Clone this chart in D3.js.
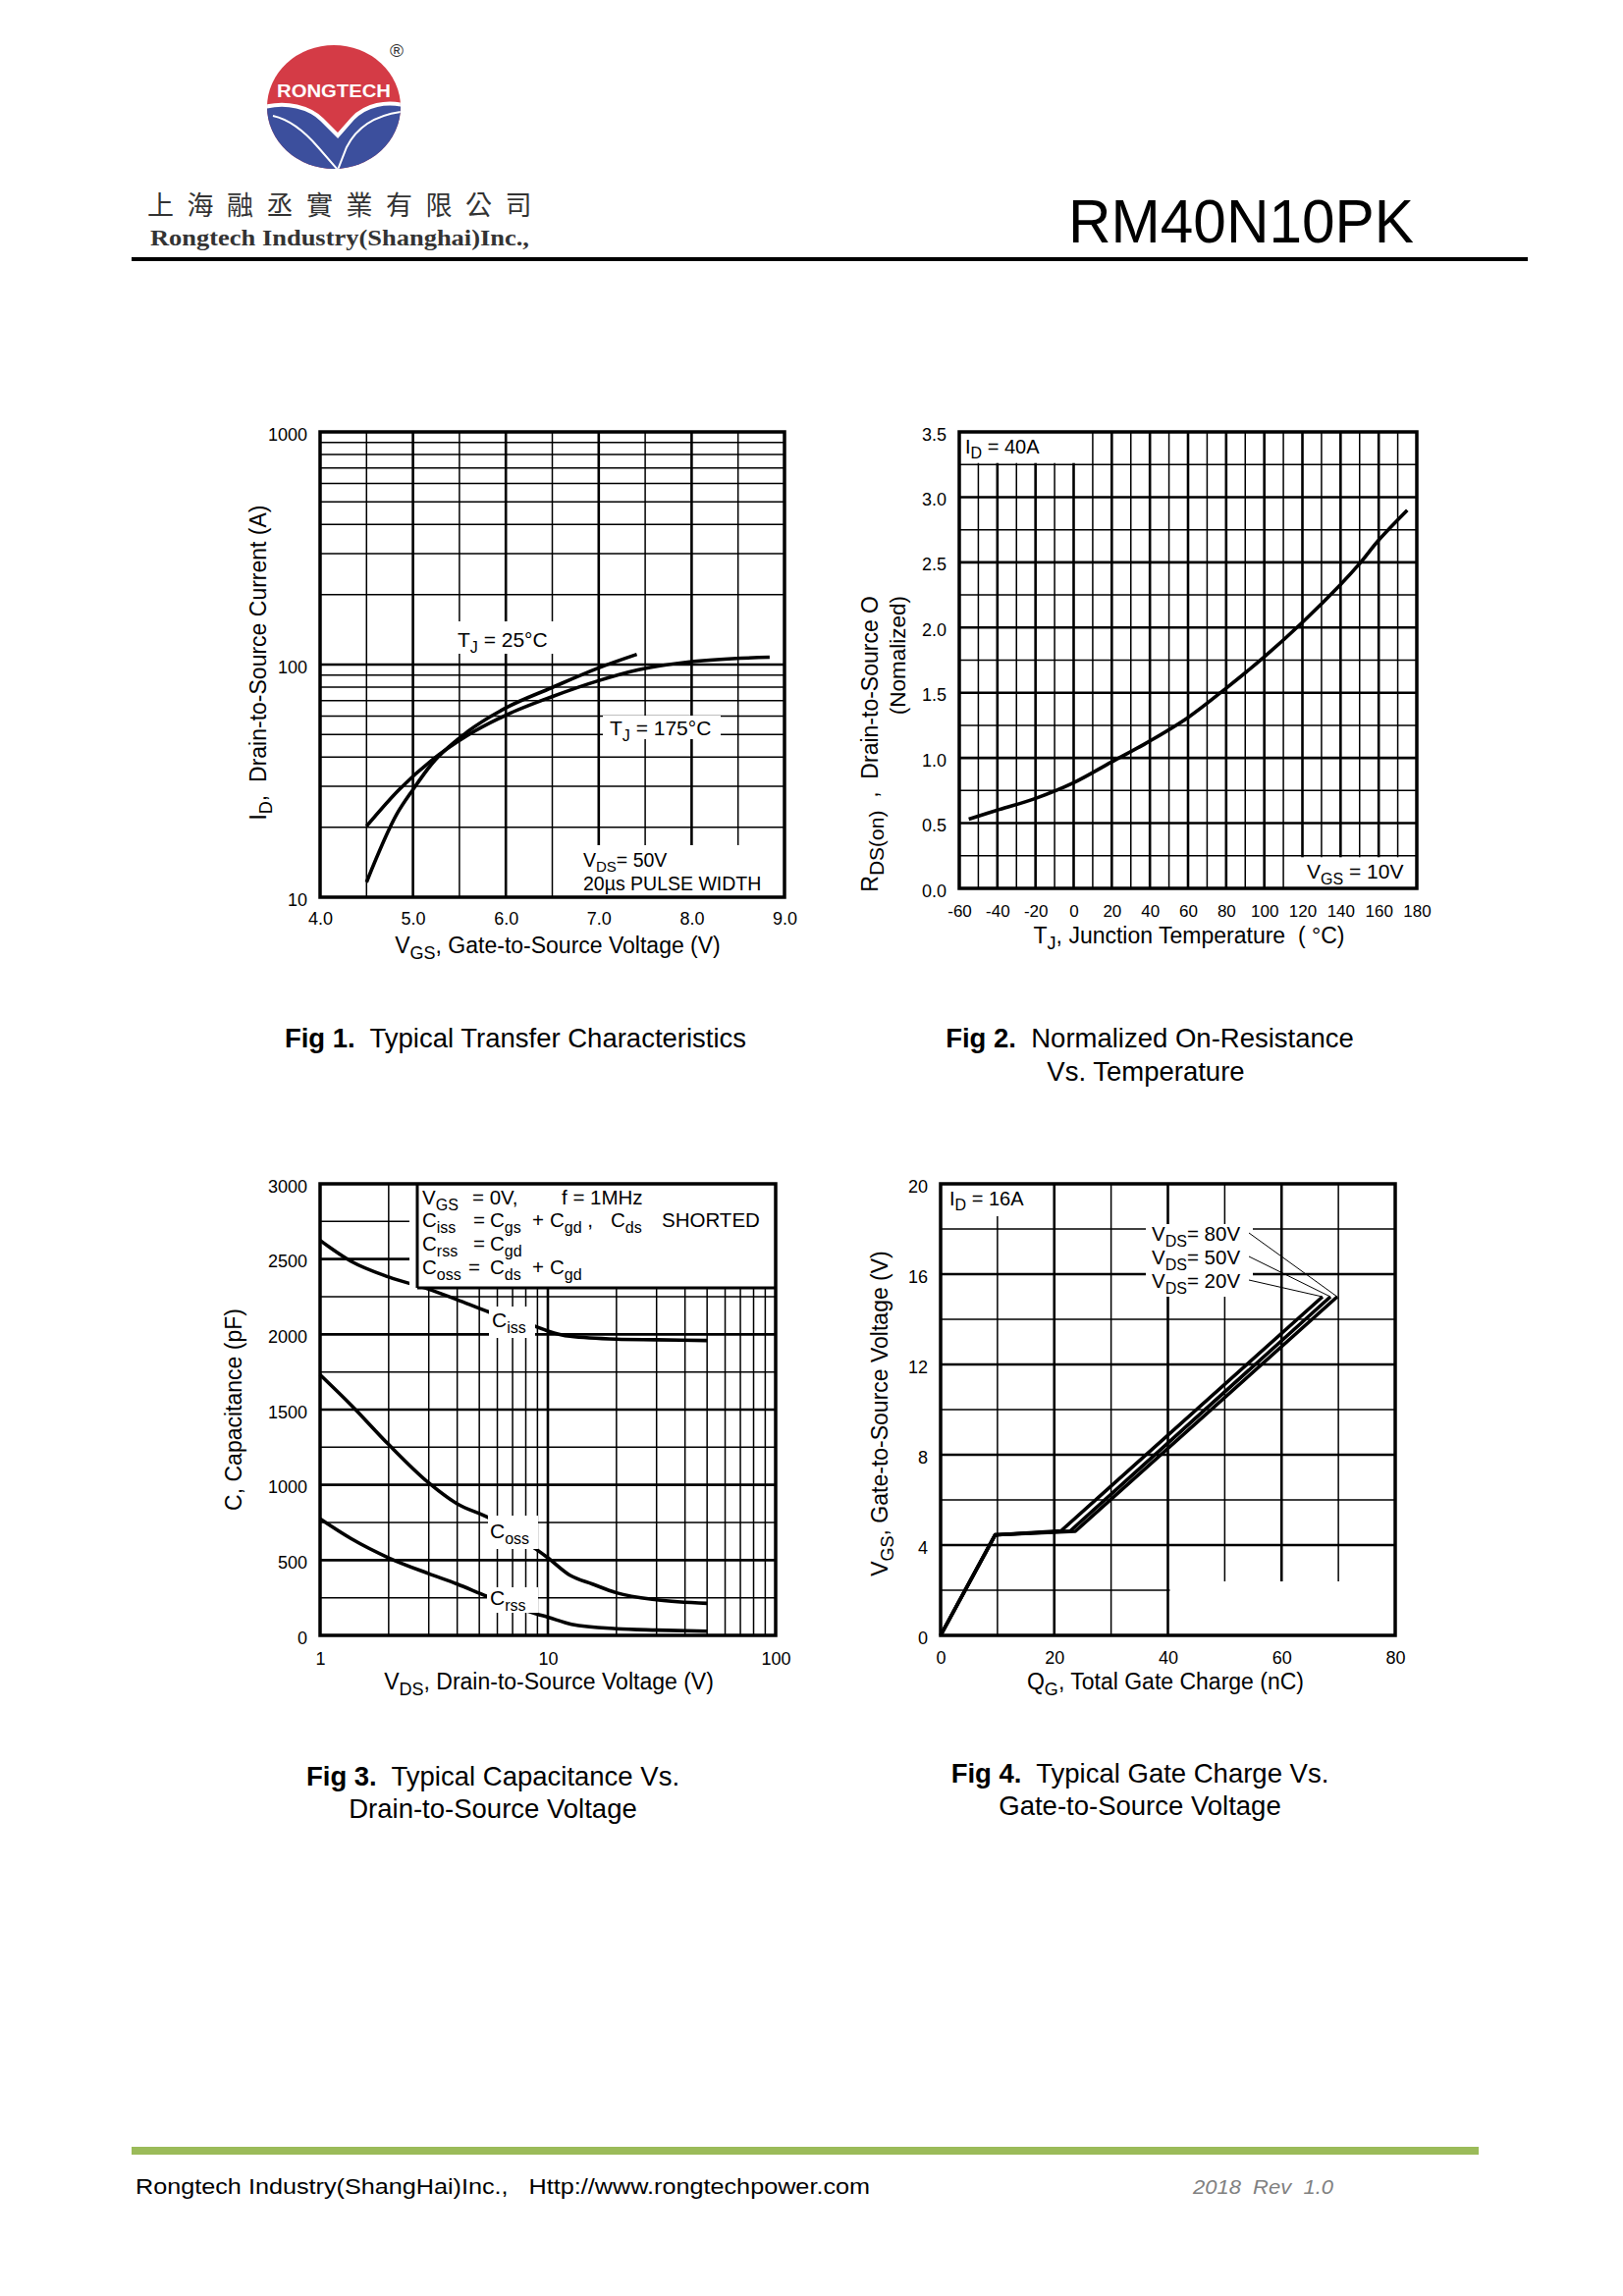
<!DOCTYPE html>
<html>
<head>
<meta charset="utf-8">
<title>RM40N10PK</title>
<script src="https://cdn.jsdelivr.net/npm/d3@7"></script>
<style>
  html, body { margin: 0; padding: 0; background: #fff; }
  svg { display: block; }
  text { font-family: "Liberation Sans", Arial, sans-serif; fill: #000; white-space: pre; }
</style>
</head>
<body>
<svg id="page" width="1653" height="2339"></svg>
<script>
// Fig 1 - transfer characteristics (VGS [V] / ID [A])
const fig1Vgs25  = [4.5, 4.83, 5.0, 5.2, 5.59, 6.0, 6.49, 7.0, 7.41];
const fig1Id25   = [11.6, 22.9, 29.0, 37.3, 51.5, 65.1, 79.4, 96.8, 110.6];
const fig1Vgs175 = [4.5, 4.85, 5.22, 5.59, 6.0, 6.49, 7.0, 7.43, 8.0, 8.84];
const fig1Id175  = [20.2, 29.0, 39.3, 49.7, 60.6, 72.6, 85.3, 95.0, 103, 107.5];
const fig1XTicks = [4, 5, 6, 7, 8, 9];
const fig1YTicks = [10, 100, 1000];

// Fig 2 - normalized RDS(on) vs TJ
const fig2Tj  = [-55, -39, -20, 0, 20, 40, 60, 80, 100, 120, 140, 150, 160, 175];
const fig2Rds = [0.53, 0.605, 0.69, 0.81, 0.97, 1.13, 1.31, 1.535, 1.775, 2.04, 2.33, 2.49, 2.67, 2.9];
const fig2XTicks = [-60, -40, -20, 0, 20, 40, 60, 80, 100, 120, 140, 160, 180];
const fig2YTicks = [0, 0.5, 1.0, 1.5, 2.0, 2.5, 3.0, 3.5];

// Fig 3 - capacitance (VDS [V] / C [pF])
const fig3VdsIss = [1, 1.37, 2, 3, 4, 5.5, 8.7, 10, 12.5, 20, 30, 50];
const fig3Ciss   = [2624, 2485, 2381, 2300, 2230, 2149, 2056, 2022, 1987, 1968, 1964, 1959];
const fig3VdsOss = [1, 1.37, 2, 3, 4, 5.5, 8.87, 10, 12.5, 15.7, 20, 30, 50];
const fig3Coss   = [1732, 1530, 1268, 1013, 874, 781, 573, 515, 399, 341, 283, 236, 213];
const fig3VdsRss = [1, 1.37, 2, 3, 4, 5.4, 8.87, 10, 12.7, 20, 30, 50];
const fig3Crss   = [774, 642, 515, 410, 341, 260, 144, 121, 74, 44, 35, 28];
const fig3XTicks = [1, 10, 100];
const fig3YTicks = [0, 500, 1000, 1500, 2000, 2500, 3000];

// Fig 4 - gate charge (QG [nC] / VGS [V])
const fig4Q20 = [0, 9.6, 21.2, 67.2];
const fig4V20 = [0, 4.45, 4.63, 15.0];
const fig4Q50 = [0, 9.6, 22.8, 68.6];
const fig4V50 = [0, 4.45, 4.62, 15.0];
const fig4Q80 = [0, 9.6, 23.7, 69.8];
const fig4V80 = [0, 4.45, 4.61, 15.0];
const fig4XTicks = [0, 20, 40, 60, 80];
const fig4YTicks = [0, 4, 8, 12, 16, 20];

const svg = d3.select("#page");

// text with subscripts: parts are strings or [sub]
function rich(g, x, y, parts, size, opt = {}) {
  const subSize = Math.round(size * (opt.subScale || 0.78));
  const shift = size * 0.27;
  const t = g.append("text").attr("x", x).attr("y", y)
    .style("font-size", size + "px")
    .attr("text-anchor", opt.anchor || "start");
  if (opt.transform) t.attr("transform", opt.transform);
  let down = 0;
  parts.forEach(p => {
    const isSub = Array.isArray(p);
    const s = t.append("tspan").text(isSub ? p[0] : p);
    if (isSub) {
      s.attr("dy", shift - down).style("font-size", subSize + "px");
      down = shift;
    } else {
      if (down) s.attr("dy", -down);
      down = 0;
    }
  });
  return t;
}

function grid(g, P, sx, sy, xVals, yVals, majorX, majorY) {
  g.append("g").selectAll("line").data(xVals).join("line")
    .attr("x1", d => sx(d)).attr("x2", d => sx(d))
    .attr("y1", P.t).attr("y2", P.b)
    .attr("stroke", "#000").attr("stroke-width", d => majorX(d) ? 2.6 : 1.5);
  g.append("g").selectAll("line").data(yVals).join("line")
    .attr("x1", P.l).attr("x2", P.r)
    .attr("y1", d => sy(d)).attr("y2", d => sy(d))
    .attr("stroke", "#000").attr("stroke-width", d => majorY(d) ? 2.6 : 1.5);
}

function blank(g, x, y, w, h) {
  g.append("rect").attr("x", x).attr("y", y).attr("width", w).attr("height", h).attr("fill", "#fff");
}

function frame(g, P) {
  g.append("rect").attr("x", P.l).attr("y", P.t)
    .attr("width", P.r - P.l).attr("height", P.b - P.t)
    .attr("fill", "none").attr("stroke", "#000").attr("stroke-width", 3.5);
}

function xLabels(g, scale, ticks, fmt, y, size) {
  g.append("g").attr("transform", `translate(0,${y})`)
    .call(d3.axisBottom(scale).tickValues(ticks).tickFormat(fmt).tickSize(0).tickPadding(0))
    .call(a => {
      a.select(".domain").remove();
      a.attr("font-size", size).attr("font-family", null);
      a.selectAll("text").attr("y", 0).attr("dy", null);
    });
}

function yLabels(g, scale, ticks, fmt, x, size) {
  g.append("g").attr("transform", `translate(${x},0)`)
    .call(d3.axisLeft(scale).tickValues(ticks).tickFormat(fmt).tickSize(0).tickPadding(0))
    .call(a => {
      a.select(".domain").remove();
      a.attr("font-size", size).attr("font-family", null);
      a.selectAll("text").attr("x", 0).attr("dy", "0.45em");
    });
}

function curve(g, xs, ys, sx, sy, w, kind) {
  const line = d3.line().x(d => sx(d[0])).y(d => sy(d[1])).curve(kind || d3.curveMonotoneX);
  g.append("path").datum(d3.zip(xs, ys)).attr("d", line)
    .attr("fill", "none").attr("stroke", "#000").attr("stroke-width", w)
    .attr("stroke-linejoin", "round");
}

function caption(cx, y, bold, rest) {
  const t = svg.append("text").attr("x", cx).attr("y", y).attr("text-anchor", "middle").style("font-size", "27.5px");
  if (bold) t.append("tspan").style("font-weight", "bold").text(bold);
  t.append("tspan").text(rest);
}

// ---------------- header ----------------
const logo = svg.append("g");
logo.append("clipPath").attr("id", "logoClip")
  .append("ellipse").attr("cx", 340).attr("cy", 109).attr("rx", 68).attr("ry", 63);
const lg = logo.append("g").attr("clip-path", "url(#logoClip)");
lg.append("rect").attr("x", 270).attr("y", 44).attr("width", 142).attr("height", 132).attr("fill", "#d43b46");
lg.append("path")
  .attr("d", "M266,110 C292,102 316,110 328,122 L344,138 L359,121 C372,107 394,102 414,108 L414,176 L266,176 Z")
  .attr("fill", "#3c4f9d");
lg.append("path")
  .attr("d", "M266,110 C292,102 316,110 328,122 L344,138 L359,121 C372,107 394,102 414,108")
  .attr("fill", "none").attr("stroke", "#fff").attr("stroke-width", 4);
lg.append("path")
  .attr("d", "M278,118 C296,122 312,136 324,150 L344,173 L353,150 C362,132 380,118 408,114")
  .attr("fill", "none").attr("stroke", "#fff").attr("stroke-width", 2);
logo.append("text").attr("x", 340).attr("y", 99).attr("text-anchor", "middle")
  .attr("textLength", 116).attr("lengthAdjust", "spacingAndGlyphs")
  .style("font-size", "18px").style("font-weight", "bold").style("fill", "#fff").text("RONGTECH");
logo.append("text").attr("x", 404).attr("y", 58).attr("text-anchor", "middle")
  .style("font-size", "19px").style("fill", "#333").text("®");

svg.append("text").attr("x", 150).attr("y", 219)
  .style("font-family", '"Noto Sans CJK TC", "Noto Sans CJK SC", sans-serif')
  .style("font-size", "27px").style("letter-spacing", "13.5px").style("fill", "#333")
  .text("上海融丞實業有限公司");
svg.append("text").attr("x", 153).attr("y", 250)
  .attr("textLength", 386).attr("lengthAdjust", "spacingAndGlyphs")
  .style("font-family", '"Liberation Serif", "Times New Roman", serif')
  .style("font-size", "23px").style("font-weight", "bold").style("fill", "#333")
  .text("Rongtech Industry(Shanghai)Inc.,");
svg.append("text").attr("x", 1088).attr("y", 247)
  .attr("textLength", 352).attr("lengthAdjust", "spacingAndGlyphs")
  .style("font-size", "63px").text("RM40N10PK");
svg.append("rect").attr("x", 134).attr("y", 262).attr("width", 1422).attr("height", 4).attr("fill", "#000");

// ---------------- Fig 1 ----------------
{
  const P = { l: 326, r: 799, t: 440, b: 914 };
  const g = svg.append("g");
  const x = d3.scaleLinear().domain([4, 9]).range([P.l, P.r]);
  const y = d3.scaleLog().domain([10, 1000]).range([P.b, P.t]);
  grid(g, P, x, y,
    x.ticks(10).filter(d => d > 4 && d < 9),
    y.ticks().filter(d => d > 10 && d < 1000),
    d => Number.isInteger(d), d => d === 100);
  curve(g, fig1Vgs25, fig1Id25, x, y, 3.6);
  curve(g, fig1Vgs175, fig1Id175, x, y, 3.6);

  blank(g, 458, 633, 106, 33);
  rich(g, 466, 659, ["T", ["J"], " = 25°C"], 21);
  blank(g, 614, 729, 120, 24);
  rich(g, 621, 749, ["T", ["J"], " = 175°C"], 21);
  blank(g, 588, 861, P.r - 588, P.b - 861);
  rich(g, 594, 883, ["V", ["DS"], "= 50V"], 19.5);
  rich(g, 594, 907, ["20µs PULSE WIDTH"], 19.5);
  frame(g, P);

  xLabels(g, x, fig1XTicks, d3.format(".1f"), P.b + 28, 18);
  yLabels(g, y, fig1YTicks, d => String(d), P.l - 13, 18);
  rich(g, 568, 971, ["V", ["GS"], ", Gate-to-Source Voltage (V)"], 23, { anchor: "middle" });
  rich(g, 0, 0, ["I", ["D"], ",  Drain-to-Source Current (A)"], 23,
    { anchor: "middle", transform: "translate(271,675) rotate(-90)" });
}

// ---------------- Fig 2 ----------------
{
  const P = { l: 977, r: 1443, t: 440, b: 905 };
  const g = svg.append("g");
  const x = d3.scaleLinear().domain([-60, 180]).range([P.l, P.r]);
  const y = d3.scaleLinear().domain([0, 3.5]).range([P.b, P.t]);
  grid(g, P, x, y,
    d3.range(-50, 180, 10), d3.range(0.25, 3.5, 0.25),
    d => d % 20 === 0, d => Math.abs(d * 2 - Math.round(d * 2)) < 1e-6);
  curve(g, fig2Tj, fig2Rds, x, y, 3.6, d3.curveCatmullRom);

  blank(g, P.l, P.t, 131, y(3.25) - P.t - 1.5);
  rich(g, 983, 462, ["I", ["D"], " = 40A"], 20);
  blank(g, 1308, y(0.25) + 1.5, P.r - 1308, P.b - y(0.25) - 1.5);
  rich(g, 1331, 895, ["V", ["GS"], " = 10V"], 21);
  frame(g, P);

  xLabels(g, x, fig2XTicks, d => String(d), P.b + 29, 17);
  yLabels(g, y, fig2YTicks, d3.format(".1f"), P.l - 13, 18);
  rich(g, 1211, 961, ["T", ["J"], ", Junction Temperature  ( °C)"], 23, { anchor: "middle" });
  rich(g, 0, 0, ["R", ["DS(on)"], "  ,  Drain-to-Source O"], 23,
    { anchor: "end", subScale: 0.9, transform: "translate(894,607) rotate(-90)" });
  rich(g, 0, 0, ["(Nomalized)"], 22.5,
    { anchor: "end", transform: "translate(922,607) rotate(-90)" });
}

// ---------------- Fig 3 ----------------
{
  const P = { l: 326, r: 790, t: 1206, b: 1666 };
  const g = svg.append("g");
  const x = d3.scaleLog().domain([1, 100]).range([P.l, P.r]);
  const y = d3.scaleLinear().domain([0, 3000]).range([P.b, P.t]);
  grid(g, P, x, y,
    x.ticks().filter(d => d > 1 && d < 100),
    d3.range(250, 3000, 250),
    d => d === 10, d => d % 500 === 0);
  curve(g, fig3VdsIss, fig3Ciss, x, y, 3.6);
  curve(g, fig3VdsOss, fig3Coss, x, y, 3.6);
  curve(g, fig3VdsRss, fig3Crss, x, y, 3.6);

  // legend block
  blank(g, 417, P.t, P.r - 417, 1312 - P.t);
  g.append("line").attr("x1", 425).attr("x2", 425).attr("y1", P.t).attr("y2", 1312)
    .attr("stroke", "#000").attr("stroke-width", 3);
  g.append("line").attr("x1", 425).attr("x2", P.r).attr("y1", 1312).attr("y2", 1312)
    .attr("stroke", "#000").attr("stroke-width", 3);
  const fs = 20.5;
  rich(g, 430, 1227, ["V", ["GS"]], fs);
  rich(g, 481, 1227, ["= 0V,"], fs);
  rich(g, 572, 1227, ["f = 1MHz"], fs);
  rich(g, 430, 1250, ["C", ["iss"]], fs);
  rich(g, 482, 1250, ["="], fs);
  rich(g, 499, 1250, ["C", ["gs"]], fs);
  rich(g, 542, 1250, ["+"], fs);
  rich(g, 560, 1250, ["C", ["gd"], " ,"], fs);
  rich(g, 622, 1250, ["C", ["ds"]], fs);
  rich(g, 674, 1250, ["SHORTED"], fs);
  rich(g, 430, 1274, ["C", ["rss"]], fs);
  rich(g, 482, 1274, ["="], fs);
  rich(g, 499, 1274, ["C", ["gd"]], fs);
  rich(g, 430, 1298, ["C", ["oss"]], fs);
  rich(g, 477, 1298, ["="], fs);
  rich(g, 499, 1298, ["C", ["ds"]], fs);
  rich(g, 542, 1298, ["+"], fs);
  rich(g, 560, 1298, ["C", ["gd"]], fs);

  blank(g, 498, 1331, 47, 32);
  rich(g, 501, 1352, ["C", ["iss"]], 21);
  blank(g, 497, 1544, 51, 34);
  rich(g, 499, 1567, ["C", ["oss"]], 21);
  blank(g, 496, 1617, 52, 26);
  rich(g, 499, 1635, ["C", ["rss"]], 21);
  frame(g, P);

  xLabels(g, x, fig3XTicks, d => String(d), P.b + 30, 18);
  yLabels(g, y, fig3YTicks, d => String(d), P.l - 13, 18);
  rich(g, 559, 1721, ["V", ["DS"], ", Drain-to-Source Voltage (V)"], 23, { anchor: "middle" });
  rich(g, 0, 0, ["C, Capacitance (pF)"], 23,
    { anchor: "middle", transform: "translate(246,1436) rotate(-90)" });
}

// ---------------- Fig 4 ----------------
{
  const P = { l: 958, r: 1421, t: 1206, b: 1666 };
  const g = svg.append("g");
  const x = d3.scaleLinear().domain([0, 80]).range([P.l, P.r]);
  const y = d3.scaleLinear().domain([0, 20]).range([P.b, P.t]);
  grid(g, P, x, y,
    d3.range(10, 80, 10), d3.range(2, 20, 2),
    d => d % 20 === 0, d => d % 4 === 0);
  curve(g, fig4Q20, fig4V20, x, y, 3.6, d3.curveLinear);
  curve(g, fig4Q50, fig4V50, x, y, 3.6, d3.curveLinear);
  curve(g, fig4Q80, fig4V80, x, y, 3.6, d3.curveLinear);

  blank(g, P.l, P.t, x(20) - P.l - 4, 33);
  rich(g, 967, 1228, ["I", ["D"], " = 16A"], 20);
  blank(g, x(40) + 2, 1611, P.r - x(40) - 2, P.b - 1611);

  blank(g, 1167, 1247, 109, 74);
  const lab = [["80V", fig4Q80, fig4V80, 1264], ["50V", fig4Q50, fig4V50, 1288], ["20V", fig4Q20, fig4V20, 1312]];
  lab.forEach(([v, q, vv, by]) => {
    rich(g, 1173, by, ["V", ["DS"], "= " + v], 20.5);
    g.append("line").attr("x1", 1272).attr("y1", by - 8)
      .attr("x2", x(q[q.length - 1])).attr("y2", y(vv[vv.length - 1]))
      .attr("stroke", "#000").attr("stroke-width", 1);
  });
  frame(g, P);

  xLabels(g, x, fig4XTicks, d => String(d), P.b + 29, 18);
  yLabels(g, y, fig4YTicks, d => String(d), P.l - 13, 18);
  rich(g, 1187, 1721, ["Q", ["G"], ", Total Gate Charge (nC)"], 23, { anchor: "middle" });
  rich(g, 0, 0, ["V", ["GS"], ", Gate-to-Source Voltage (V)"], 23,
    { anchor: "middle", transform: "translate(904,1440) rotate(-90)" });
}

// ---------------- captions ----------------
caption(525, 1067, "Fig 1.", "  Typical Transfer Characteristics");
caption(1171, 1067, "Fig 2.", "  Normalized On-Resistance");
caption(1167, 1101, null, "Vs. Temperature");
caption(502, 1819, "Fig 3.", "  Typical Capacitance Vs.");
caption(502, 1852, null, "Drain-to-Source Voltage");
caption(1161, 1816, "Fig 4.", "  Typical Gate Charge Vs.");
caption(1161, 1849, null, "Gate-to-Source Voltage");

// ---------------- footer ----------------
svg.append("rect").attr("x", 134).attr("y", 2187).attr("width", 1372).attr("height", 8).attr("fill", "#9bbb59");
svg.append("text").attr("x", 138).attr("y", 2235)
  .attr("textLength", 748).attr("lengthAdjust", "spacingAndGlyphs")
  .style("font-size", "22px")
  .text("Rongtech Industry(ShangHai)Inc.,   Http://www.rongtechpower.com");
svg.append("text").attr("x", 1215).attr("y", 2235)
  .attr("textLength", 143).attr("lengthAdjust", "spacingAndGlyphs")
  .style("font-size", "21px").style("font-style", "italic").style("fill", "#808080")
  .text("2018  Rev  1.0");
</script>
</body>
</html>
